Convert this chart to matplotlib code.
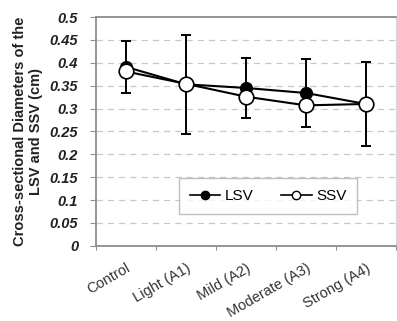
import numpy as np
import matplotlib.pyplot as plt
from matplotlib.lines import Line2D

categories = ["Control", "Light (A1)", "Mild (A2)", "Moderate (A3)", "Strong (A4)"]
lsv = [0.391, 0.353, 0.345, 0.334, 0.310]
ssv = [0.381, 0.354, 0.326, 0.307, 0.310]
lsv_err = [0.056, 0.108, 0.066, 0.074, 0.091]
yticks = [0, 0.05, 0.1, 0.15, 0.2, 0.25, 0.3, 0.35, 0.4, 0.45, 0.5]

plt.rcParams["font.family"] = ["Liberation Sans", "DejaVu Sans"]

fig = plt.figure(figsize=(3.97, 3.21), dpi=100)
ax = fig.add_axes([0.242, 0.234, 0.755, 0.713])

x = np.arange(len(categories))

for y in yticks[1:-1]:
    ax.axhline(y, color="#c8c8c8", linestyle=(0, (5, 4)), linewidth=0.9, zorder=0)

ax.errorbar(x, lsv, yerr=lsv_err, fmt="none", ecolor="black", elinewidth=1.4,
            capsize=3.5, capthick=1.4, zorder=2)
ax.plot(x, lsv, color="black", linewidth=1.5, marker="o", markersize=8.5,
        markerfacecolor="black", markeredgecolor="black", zorder=3)
ax.plot(x, ssv, color="black", linewidth=1.5, marker="o", markersize=10.5,
        markerfacecolor="white", markeredgecolor="black", markeredgewidth=1.2, zorder=4)

ax.set_xlim(-0.5, len(categories) - 0.5)
ax.set_ylim(0, 0.5)
ax.set_yticks(yticks)
ax.set_yticklabels([f"{v:g}" for v in yticks], fontweight="bold", fontstyle="italic",
                   fontsize=10.5, color="#222222")
ax.set_xticks(np.arange(len(categories) + 1) - 0.5, minor=False)
ax.set_xticklabels([])
ax.set_xticks(x, minor=True)
ax.set_xticklabels(categories, minor=True, rotation=30, ha="right",
                   rotation_mode="anchor", fontsize=10.5, color="#333333")
ax.tick_params(axis="x", which="minor", length=0, pad=11)
ax.tick_params(axis="x", which="major", length=3, color="#909090")
ax.tick_params(axis="y", length=4, color="#909090", pad=9)

for side in ["left", "bottom", "top"]:
    ax.spines[side].set_color("#8c8c8c")
    ax.spines[side].set_linewidth(1.3)
ax.spines["right"].set_color("#d8d8d8")

ax.set_ylabel("Cross-sectional Diameters of the\nLSV and SSV (cm)", fontweight="bold",
              fontsize=10.5, labelpad=5, linespacing=1.15, color="#222222")

handles = [
    Line2D([], [], color="black", marker="o", markersize=6, markerfacecolor="black",
           linewidth=1.2),
    Line2D([], [], color="black", marker="o", markersize=6, markerfacecolor="white",
           linewidth=1.2),
]
leg = ax.legend(handles, ["LSV", "SSV"], ncol=2, loc="upper left",
                bbox_to_anchor=(0.277, 0.295), borderaxespad=0, fontsize=11,
                frameon=True, fancybox=False, edgecolor="#b0b0b0", handlelength=2.0,
                columnspacing=1.8, borderpad=0.7, handletextpad=0.3)
leg.get_frame().set_linewidth(1.0)

fig.savefig("out.png", dpi=100)
